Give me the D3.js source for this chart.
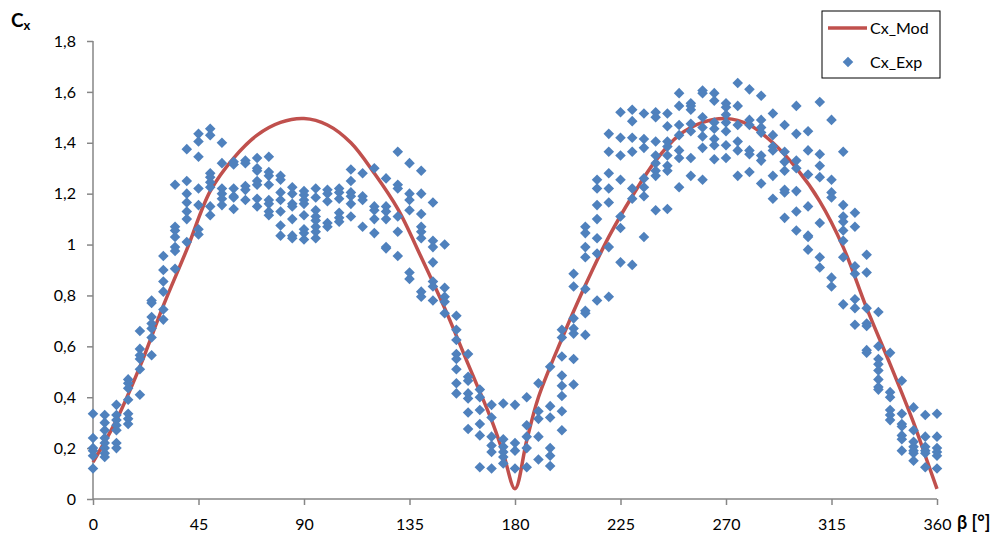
<!DOCTYPE html>
<html>
<head>
<meta charset="utf-8">
<script src="https://cdn.jsdelivr.net/npm/d3@7"></script>
<style>
  html, body { margin: 0; padding: 0; background: #fff; }
  svg { display: block; font-family: Lato, "Open Sans", sans-serif; }
</style>
</head>
<body>
<div id="chart"></div>
<script>
// ---- data -------------------------------------------------------------------
const xTicks = [0, 45, 90, 135, 180, 225, 270, 315, 360];
const yTicks = [0, 0.2, 0.4, 0.6, 0.8, 1, 1.2, 1.4, 1.6, 1.8];

// model curve Cx_Mod
const modBeta = [0, 10, 20, 30, 40, 50, 60, 70, 80, 90, 100, 110, 120, 130, 140, 150, 160, 170, 175, 180,
  185, 190, 200, 210, 220, 230, 240, 250, 260, 270, 280, 290, 300, 310, 320, 330, 340, 350, 355, 360];
const modCx = [0.145, 0.31, 0.52, 0.76, 0.98, 1.21, 1.34, 1.43, 1.48, 1.495, 1.47, 1.40, 1.28, 1.14, 0.95, 0.75, 0.53, 0.31, 0.18, 0.04,
  0.23, 0.40, 0.63, 0.84, 1.03, 1.19, 1.33, 1.43, 1.48, 1.495, 1.47, 1.40, 1.30, 1.17, 0.99, 0.75, 0.53, 0.30, 0.17, 0.04];

// measurements Cx_Exp: one column of points per angle
const expBeta = d3.range(0, 361, 5);
const expCx = [
  [0.335, 0.24, 0.20, 0.19, 0.17, 0.12],
  [0.33, 0.30, 0.27, 0.24, 0.22, 0.20, 0.18, 0.165],
  [0.37, 0.33, 0.31, 0.29, 0.27, 0.22, 0.20],
  [0.47, 0.455, 0.435, 0.39, 0.335, 0.315, 0.295],
  [0.66, 0.59, 0.565, 0.55, 0.51, 0.41],
  [0.78, 0.77, 0.715, 0.69, 0.67, 0.635, 0.565],
  [0.955, 0.90, 0.855, 0.815, 0.745, 0.705],
  [1.235, 1.07, 1.055, 1.03, 0.99, 0.975, 0.905],
  [1.375, 1.25, 1.20, 1.165, 1.13, 1.10, 1.01],
  [1.435, 1.405, 1.345, 1.22, 1.155, 1.06, 1.04],
  [1.455, 1.43, 1.28, 1.265, 1.245, 1.225, 1.15, 1.115],
  [1.40, 1.32, 1.22, 1.20, 1.18, 1.155],
  [1.325, 1.315, 1.22, 1.19, 1.185, 1.14],
  [1.33, 1.32, 1.23, 1.215, 1.175],
  [1.34, 1.30, 1.29, 1.25, 1.235, 1.18, 1.15],
  [1.345, 1.285, 1.27, 1.235, 1.175, 1.16, 1.13, 1.115],
  [1.27, 1.255, 1.205, 1.175, 1.13, 1.075, 1.035],
  [1.225, 1.20, 1.16, 1.15, 1.10, 1.035, 1.025],
  [1.21, 1.195, 1.175, 1.16, 1.115, 1.06, 1.045, 1.02],
  [1.22, 1.185, 1.135, 1.11, 1.095, 1.07, 1.05, 1.025],
  [1.215, 1.20, 1.17, 1.085, 1.07],
  [1.22, 1.205, 1.18, 1.125, 1.105, 1.09],
  [1.295, 1.25, 1.205, 1.19, 1.16, 1.11],
  [1.28, 1.19, 1.175, 1.07],
  [1.30, 1.15, 1.135, 1.10, 1.045],
  [1.26, 1.15, 1.13, 1.10, 0.99, 0.985],
  [1.365, 1.235, 1.22, 1.11, 1.05, 0.955],
  [1.32, 1.20, 1.175, 1.135, 0.89, 0.865],
  [1.29, 1.20, 1.12, 1.07, 1.05, 1.025, 0.815, 0.795],
  [1.165, 1.015, 0.99, 0.93, 0.855, 0.835, 0.78],
  [1.0, 0.83, 0.795, 0.775, 0.73],
  [0.72, 0.665, 0.625, 0.57, 0.55, 0.51, 0.455, 0.415],
  [0.57, 0.48, 0.465, 0.415, 0.395, 0.34, 0.275],
  [0.43, 0.40, 0.35, 0.295, 0.25, 0.125],
  [0.37, 0.32, 0.245, 0.21, 0.185, 0.12],
  [0.375, 0.235, 0.205, 0.185, 0.165, 0.14],
  [0.37, 0.22, 0.19, 0.12],
  [0.40, 0.29, 0.245, 0.20, 0.125],
  [0.455, 0.345, 0.315, 0.245, 0.155],
  [0.52, 0.365, 0.32, 0.20, 0.17, 0.13],
  [0.665, 0.635, 0.56, 0.485, 0.445, 0.405, 0.345, 0.27],
  [0.885, 0.835, 0.71, 0.67, 0.65, 0.55, 0.45],
  [1.07, 1.045, 0.99, 0.95, 0.825, 0.74, 0.73, 0.645],
  [1.255, 1.22, 1.155, 1.10, 1.025, 0.965, 0.78],
  [1.435, 1.365, 1.28, 1.22, 1.165, 0.99, 0.795],
  [1.52, 1.42, 1.35, 1.255, 1.11, 1.065, 0.93],
  [1.53, 1.485, 1.42, 1.365, 1.22, 1.18, 0.92],
  [1.515, 1.415, 1.38, 1.26, 1.225, 1.19, 1.03],
  [1.52, 1.50, 1.405, 1.35, 1.32, 1.29, 1.27, 1.135],
  [1.515, 1.465, 1.405, 1.385, 1.35, 1.31, 1.29, 1.14],
  [1.595, 1.545, 1.47, 1.43, 1.37, 1.34, 1.225],
  [1.555, 1.545, 1.53, 1.475, 1.445, 1.34, 1.27],
  [1.605, 1.595, 1.50, 1.46, 1.425, 1.38, 1.255],
  [1.595, 1.565, 1.48, 1.455, 1.415, 1.39, 1.335],
  [1.555, 1.54, 1.51, 1.48, 1.445, 1.39, 1.34],
  [1.635, 1.545, 1.47, 1.405, 1.37, 1.27],
  [1.61, 1.49, 1.47, 1.37, 1.355, 1.285],
  [1.585, 1.49, 1.46, 1.44, 1.35, 1.33, 1.24],
  [1.515, 1.43, 1.385, 1.37, 1.27, 1.18],
  [1.47, 1.365, 1.325, 1.29, 1.215, 1.205, 1.105],
  [1.545, 1.435, 1.33, 1.30, 1.21, 1.13, 1.055],
  [1.445, 1.37, 1.275, 1.15, 1.035, 1.03, 0.98],
  [1.56, 1.355, 1.31, 1.265, 1.085, 0.95, 0.91],
  [1.49, 1.255, 1.205, 1.185, 0.87, 0.835],
  [1.365, 1.155, 1.11, 1.09, 1.055, 1.015, 0.95, 0.765],
  [1.125, 1.07, 0.915, 0.885, 0.785, 0.75, 0.685],
  [0.96, 0.89, 0.75, 0.69, 0.68, 0.585, 0.575],
  [0.735, 0.60, 0.55, 0.53, 0.505, 0.47, 0.44, 0.43],
  [0.575, 0.42, 0.40, 0.35, 0.33, 0.31],
  [0.465, 0.335, 0.295, 0.285, 0.25, 0.235, 0.19],
  [0.36, 0.27, 0.225, 0.205, 0.19, 0.18, 0.15],
  [0.33, 0.245, 0.205, 0.19, 0.18, 0.125],
  [0.335, 0.245, 0.20, 0.185, 0.17, 0.12]
];

// ---- layout -----------------------------------------------------------------
const W = 1003, H = 539;
const M = { left: 93, right: 66, top: 41, bottom: 40 };
const RED = "#C0504D", BLUE = "#4F81BD", AXIS = "#868686";
const fmt = (v) => String(+v.toFixed(1)).replace(".", ",");

const svg = d3.select("#chart").append("svg").attr("width", W).attr("height", H);

const x = d3.scaleLinear().domain([0, 360]).range([M.left, W - M.right]);
const y = d3.scaleLinear().domain([0, 1.8]).range([H - M.bottom, M.top]);

// axes
const yAxis = svg.append("g")
  .attr("transform", `translate(${M.left},0)`)
  .call(d3.axisLeft(y).tickValues(yTicks).tickFormat(fmt).tickSize(6).tickPadding(11));
const xAxis = svg.append("g")
  .attr("transform", `translate(0,${H - M.bottom})`)
  .call(d3.axisBottom(x).tickValues(xTicks).tickSize(6).tickPadding(14));
[yAxis, xAxis].forEach((a) => {
  a.selectAll("path,line").attr("stroke", AXIS).attr("stroke-width", 1.5);
  a.select(".domain").attr("d", a === yAxis
    ? `M0,${y(1.8)}V${y(0)}`
    : `M${x(0)},0H${x(360)}`);
  a.selectAll("text").attr("fill", "#000").style("font-size", "16px").style("font-family", "Lato, sans-serif");
});

// model curve
const modPts = modBeta.map((b, i) => [b, modCx[i]]);
svg.append("path")
  .datum(modPts)
  .attr("fill", "none")
  .attr("stroke", RED)
  .attr("stroke-width", 3.5)
  .attr("d", d3.line().x((d) => x(d[0])).y((d) => y(d[1])).curve(d3.curveCatmullRom.alpha(0.5)));

// measured points
const expPts = [];
expBeta.forEach((b, i) => expCx[i].forEach((v) => expPts.push([b, v])));
const diamond = d3.symbol(d3.symbolSquare, 56)();
svg.append("g")
  .selectAll("path")
  .data(expPts)
  .join("path")
  .attr("d", diamond)
  .attr("fill", BLUE)
  .attr("transform", (d) => `translate(${x(d[0])},${y(d[1])}) rotate(45)`);

// axis titles
const cx = svg.append("text").attr("x", 11).attr("y", 27)
  .style("font-weight", "bold").style("font-size", "19px").attr("fill", "#000");
cx.append("tspan").text("C");
cx.append("tspan").attr("dy", 3).style("font-size", "13px").text("x");

svg.append("text").attr("x", 957).attr("y", 529)
  .style("font-weight", "bold").style("font-size", "18px").attr("fill", "#000")
  .text("β [°]");

// legend
const lg = svg.append("g");
lg.append("rect").attr("x", 822).attr("y", 11).attr("width", 118).attr("height", 67)
  .attr("fill", "#fff").attr("stroke", "#000").attr("stroke-width", 1);
lg.append("line").attr("x1", 828).attr("x2", 867).attr("y1", 28).attr("y2", 28)
  .attr("stroke", RED).attr("stroke-width", 3.5);
lg.append("path").attr("d", diamond).attr("fill", BLUE)
  .attr("transform", "translate(848,62) rotate(45)");
lg.append("text").attr("x", 870).attr("y", 34).style("font-size", "16px").text("Cx_Mod");
lg.append("text").attr("x", 870).attr("y", 68).style("font-size", "16px").text("Cx_Exp");
</script>
</body>
</html>
